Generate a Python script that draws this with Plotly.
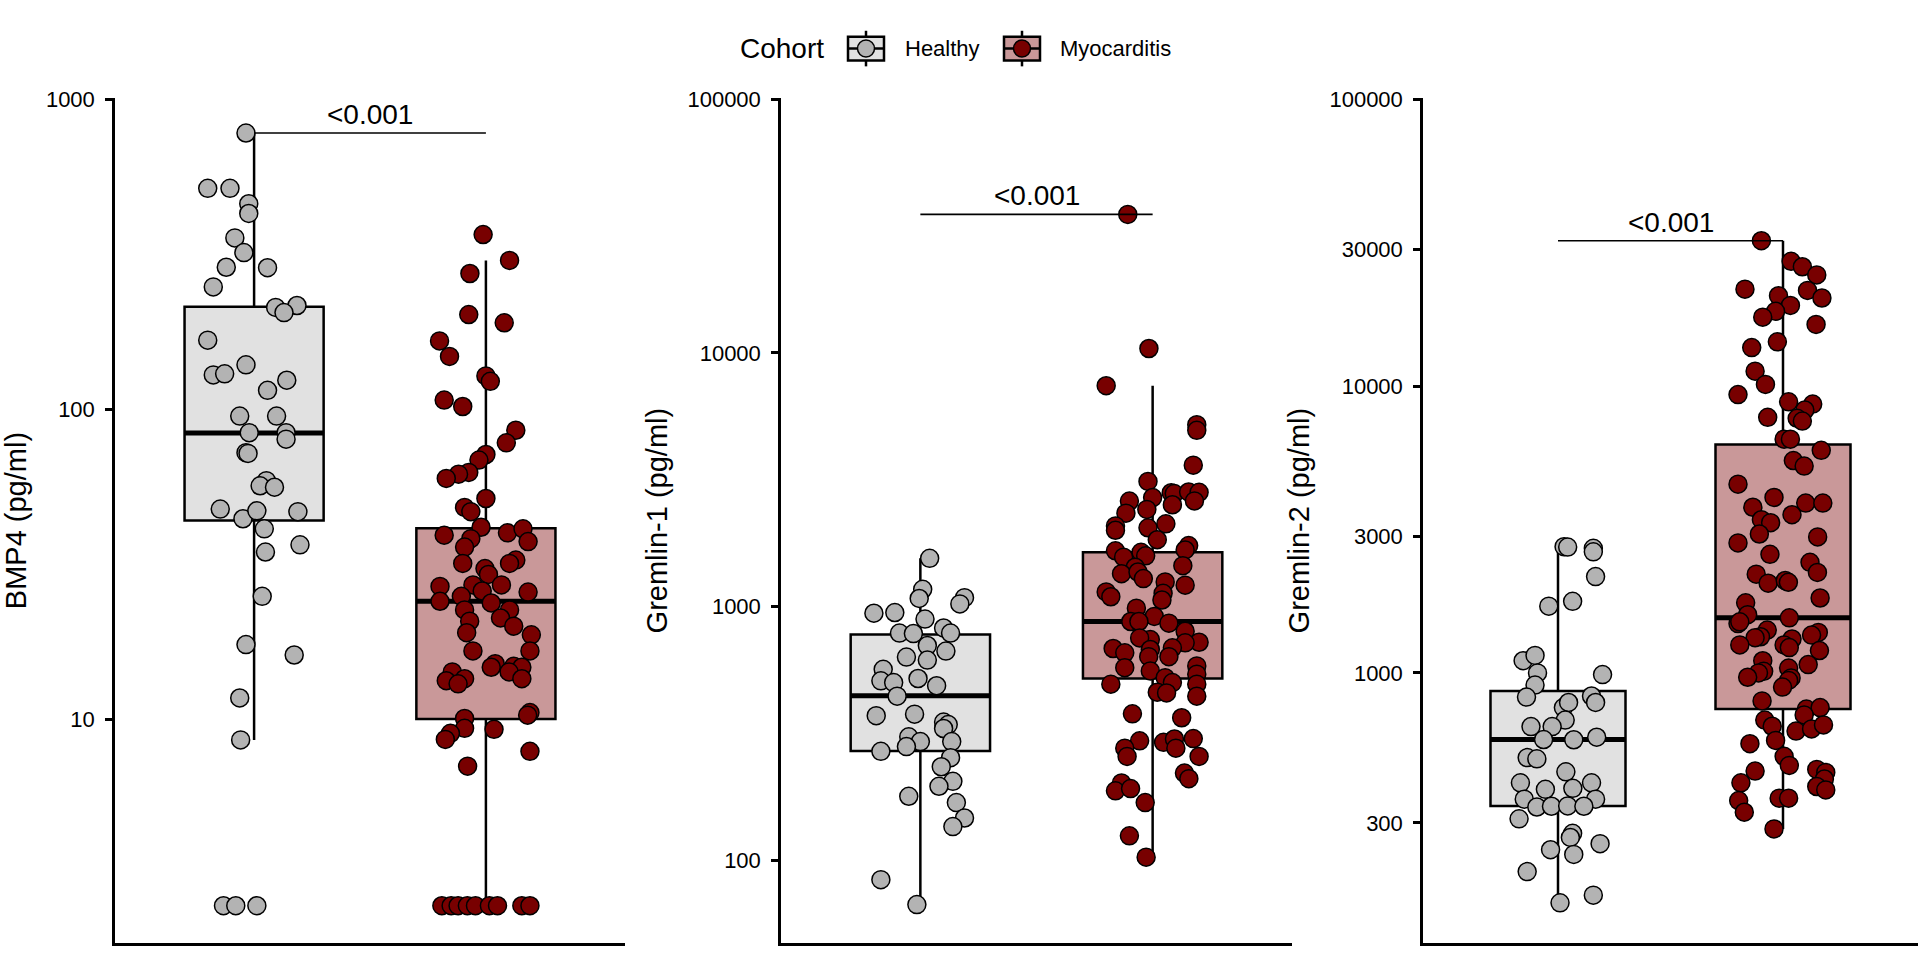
import plotly.graph_objects as go
import math

# ---------------- data ----------------
groups = ["Healthy", "Myocarditis"]
legend_title = "Cohort"
y_titles = ["BMP4 (pg/ml)", "Gremlin-1 (pg/ml)", "Gremlin-2 (pg/ml)"]
p_labels = ["<0.001", "<0.001", "<0.001"]

# BMP4
bmp4_healthy = [778, 516, 516, 460, 428, 357, 320, 287, 286, 248, 213, 216, 205, 167, 129, 130,
                139, 124, 115, 95, 95, 84, 84, 80, 72.4, 72, 58.8, 56.6, 56, 47.6, 44.3, 47, 46.7,
                41.1, 36.5, 34.6, 24.9, 17.4, 16.1, 11.7, 8.57, 2.5, 2.5, 2.5]
bmp4_healthy_jit = [-0.035, -0.2, -0.104, -0.023, -0.023, -0.083, -0.044, -0.12, 0.058, -0.176, 0.093,
                    0.185, 0.129, -0.2, -0.176, -0.127, -0.035, 0.141, 0.058, -0.062, 0.097, -0.021,
                    0.138, 0.138, -0.035, -0.026, 0.053, 0.026, 0.088, -0.146, -0.048, 0.012, 0.189,
                    0.044, 0.198, 0.049, 0.035, -0.035, 0.173, -0.062, -0.058, -0.132, -0.079, 0.012]
bmp4_myo = [366, 302, 274, 202, 190, 166, 148, 128, 123, 107, 102, 85.5, 77.9, 71.4, 68.5, 62.5, 61.7,
            59.8, 51.5, 48.2, 46.7, 41.6, 39.2, 39.9, 41.1, 38.2, 37.4, 35.9, 31.8, 32.6, 31.8, 30.6,
            29.3, 27.1, 26.8, 27.1, 25.9, 25.7, 24.9, 24.0, 23.7, 22.5, 22.5, 21.2, 20.7, 19.95, 19.0,
            18.7, 16.6, 16.6, 15.1, 14.7, 14.8, 14.7, 14.2, 14.2, 13.3, 13.5, 13.0, 13.5, 10.5, 10.3,
            10.05, 9.34, 9.0, 8.6, 9.27, 7.87, 7.05, 2.5, 2.5, 2.5, 2.5, 2.5, 2.5, 2.5, 2.5, 2.5]
bmp4_myo_jit = [-0.012, 0.102, -0.069, -0.074, 0.079, -0.2, -0.157, 0.0, 0.019, -0.18, -0.1, 0.129,
                0.088, 0.0, -0.03, -0.074, -0.118, -0.171, 0.0, -0.092, -0.065, -0.021, -0.18, 0.093,
                0.16, -0.065, 0.182, -0.092, -0.1, 0.129, 0.102, -0.004, 0.011, -0.056, -0.198, 0.067,
                -0.016, 0.182, -0.106, -0.198, 0.023, -0.092, 0.102, 0.063, -0.07, 0.12, -0.083, 0.196,
                -0.056, 0.19, 0.04, 0.023, 0.12, 0.155, 0.1, -0.145, -0.171, -0.092, -0.12, 0.155,
                0.19, 0.18, -0.092, -0.092, -0.153, -0.175, 0.035, 0.19, -0.079,
                -0.19, -0.15, -0.12, -0.08, -0.045, 0.015, 0.05, 0.155, 0.19]

# Gremlin-1
grem1_healthy = [1550, 1170, 1077, 1085, 1025, 942, 948, 893, 824, 787, 783, 787, 703, 668, 633, 616,
                 566, 510, 502, 521, 488, 444, 372, 377, 351, 343, 331, 307, 294, 281, 269, 294, 254,
                 234, 205, 196, 179, 169, 147, 136, 84, 67]
grem1_healthy_jit = [0.04, 0.01, -0.005, 0.19, 0.17, -0.2, -0.11, 0.02, 0.1, -0.09, -0.03, 0.13, 0.03,
                     0.11, -0.06, 0.03, -0.16, -0.17, -0.115, -0.01, 0.07, -0.1, -0.19, -0.025, 0.1,
                     0.12, 0.1, -0.05, 0.0, -0.06, -0.17, 0.135, 0.13, 0.09, 0.14, 0.08, -0.05, 0.155,
                     0.19, 0.14, -0.17, -0.015]
grem1_myo = [35100, 10400, 7420, 5210, 4950, 3610, 3115, 2605, 2810, 2790, 2830, 2820, 2690, 2610, 2520,
             2335, 2415, 2080, 2000, 2120, 2045, 1835, 1740, 1672, 1660, 1566, 1637, 1586, 1450, 1430,
             1348, 1369, 1290, 1251, 1215, 1128, 1062, 1143, 1094, 986, 915, 874, 874, 861, 800, 742,
             753, 724, 720, 684, 658, 678, 688, 635, 635, 584, 575, 542, 558, 525, 502, 495, 495, 460,
             457, 444, 378, 365, 296, 277, 257, 292, 301, 302, 277, 257, 221, 210, 202, 188, 192, 169,
             125, 103]
grem1_myo_jit = [-0.107, -0.016, -0.2, 0.19, 0.19, 0.175, -0.02, -0.1, 0.08, 0.093, 0.155, 0.2, 0.0,
                 0.18, 0.085, -0.115, -0.025, -0.16, -0.16, 0.057, -0.02, 0.02, 0.155, 0.14, -0.16,
                 -0.125, -0.05, -0.03, 0.13, -0.075, -0.134, -0.063, -0.04, 0.054, 0.14, 0.045, 0.04,
                 -0.2, -0.18, -0.07, 0.007, -0.094, -0.059, 0.07, 0.14, -0.01, -0.056, 0.2, 0.14, -0.17,
                 -0.12, -0.01, 0.085, -0.017, 0.07, 0.19, -0.12, 0.19, -0.01, 0.054, 0.085, 0.19, -0.18,
                 0.02, 0.06, 0.19, -0.087, 0.125, -0.056, -0.12, -0.11, 0.047, 0.094, 0.175, 0.1, 0.2,
                 0.137, 0.156, -0.134, -0.16, -0.095, -0.032, -0.1, -0.028]

# Gremlin-2
grem2_healthy = [2755, 2745, 2718, 2644, 2167, 1777, 1709, 1103, 1151, 1000, 987, 907, 824, 831, 789,
                 757, 789, 685, 650, 650, 586, 585, 597, 507, 502, 452, 414, 414, 393, 396, 363, 363,
                 341, 343, 344, 343, 310, 276, 267, 254, 242, 233, 203, 168, 158]
grem2_healthy_jit = [0.027, 0.043, 0.157, 0.157, 0.167, 0.065, -0.041, -0.155, -0.102, -0.091, 0.198,
                     -0.102, -0.14, 0.149, 0.167, 0.024, 0.047, 0.032, -0.026, -0.12, -0.064, 0.07,
                     0.172, -0.137, -0.094, 0.035, -0.167, 0.149, -0.056, 0.066, -0.15, 0.167, -0.094,
                     -0.029, 0.043, 0.115, -0.173, 0.065, 0.055, 0.187, -0.033, 0.07, -0.137, 0.157,
                     0.009]
grem2_myo = [32100, 27200, 26050, 24400, 21760, 21540, 20640, 20270, 19100, 18220, 17380, 16400, 14260,
             13620, 11270, 10130, 9340, 8810, 8650, 8250, 7720, 7550, 7780, 6530, 6530, 5970, 5500,
             5260, 4550, 4090, 3910, 3910, 3780, 3560, 3420, 3340, 3050, 2840, 2980, 2590, 2430, 2240,
             2210, 2055, 2100, 2070, 1825, 1755, 1596, 1486, 1507, 1556, 1410, 1337, 1327, 1384, 1355,
             1313, 1252, 1226, 1252, 1197, 1103, 1069, 1040, 1013, 1000, 966, 961, 942, 893, 799, 748,
             757, 714, 685, 652, 627, 638, 659, 582, 567, 512, 476, 455, 461, 450, 427, 402, 391, 414,
             359, 327, 366, 366, 286]
grem2_myo_jit = [-0.096, 0.036, 0.086, 0.15, -0.169, 0.109, -0.02, 0.173, 0.033, -0.033, -0.09, 0.147,
                 -0.025, -0.139, -0.124, -0.078, -0.2, 0.025, 0.132, 0.097, 0.063, 0.086, -0.068, 0.005,
                 0.033, 0.17, 0.046, 0.094, -0.2, -0.04, 0.101, 0.177, -0.134, 0.04, -0.096, -0.055,
                 -0.105, -0.2, 0.154, -0.058, 0.12, 0.153, -0.119, -0.066, 0.01, 0.024, 0.165, -0.166,
                 -0.157, -0.2, -0.192, 0.028, -0.07, -0.1, -0.124, 0.157, 0.127, 0.04, 0.005, 0.028,
                 -0.192, 0.162, -0.09, 0.112, 0.025, -0.086, -0.109, -0.157, 0.036, 0.025, -0.002,
                 -0.093, 0.104, 0.165, 0.094, -0.081, -0.048, 0.058, 0.127, 0.18, -0.033, -0.147, 0.005,
                 0.028, -0.124, 0.15, 0.19, 0.184, 0.15, 0.19, -0.187, -0.197, -0.172, -0.017, 0.025,
                 -0.04]

# box statistics (computed on the log scale in the original)
box_q1 = [[43.7, 10.0], [270, 521], [344, 748]]
box_median = [[83.8, 24.0], [446, 874], [586, 1556]]
box_q3 = [[214, 41.3], [776, 1637], [865, 6250]]
box_low = [[8.57, 2.5], [67, 103], [158, 286]]
box_high = [[778, 302], [1550, 7420], [2755, 32100]]

# y tick values per panel
ticks = [[10, 100, 1000], [100, 1000, 10000, 100000], [300, 1000, 3000, 10000, 30000, 100000]]

# ---------------- style ----------------
point_colors = ["#B3B3B3", "#780000"]
box_fills = ["#E1E1E1", "#C99899"]
FONT = "Liberation Sans, Arial, Helvetica, sans-serif"

values = [[bmp4_healthy, bmp4_myo], [grem1_healthy, grem1_myo], [grem2_healthy, grem2_myo]]
jitters = [[bmp4_healthy_jit, bmp4_myo_jit], [grem1_healthy_jit, grem1_myo_jit],
           [grem2_healthy_jit, grem2_myo_jit]]

W, H = 1920, 960
px_dom = [(115, 625), (781, 1292), (1423, 1918)]
y_dom = [1 - 943 / H, 1 - 88 / H]
y_ranges = [[0.277, 3.004], [1.674, 5.004], [2.058, 5.004]]

fig = go.Figure()
annotations = []
shapes = []
for p in range(3):
    xa = "x" if p == 0 else f"x{p+1}"
    ya = "y" if p == 0 else f"y{p+1}"
    for g in range(2):
        pos = g + 1
        fig.add_trace(go.Box(
            x=[pos], q1=[box_q1[p][g]], median=[box_median[p][g]], q3=[box_q3[p][g]],
            lowerfence=[box_low[p][g]], upperfence=[box_high[p][g]],
            width=0.6, whiskerwidth=0, boxpoints=False, fillcolor=box_fills[g],
            line=dict(color="black", width=2.5), xaxis=xa, yaxis=ya,
            name=groups[g], showlegend=False, hoverinfo="skip"))
        # thicker median line like ggplot
        fig.add_trace(go.Scatter(
            x=[pos - 0.3, pos + 0.3], y=[box_median[p][g]] * 2, mode="lines",
            line=dict(color="black", width=5), xaxis=xa, yaxis=ya,
            showlegend=False, hoverinfo="skip"))
    for g in range(2):
        pos = g + 1
        fig.add_trace(go.Scatter(
            x=[pos + j for j in jitters[p][g]], y=values[p][g], mode="markers",
            marker=dict(size=18, color=point_colors[g], line=dict(color="black", width=1.5)),
            name=groups[g], showlegend=False, xaxis=xa, yaxis=ya))
    # significance bracket
    top = max(max(values[p][0]), max(values[p][1]))
    fig.add_trace(go.Scatter(
        x=[1, 2], y=[top, top], mode="lines", line=dict(color="black", width=1.6),
        xaxis=xa, yaxis=ya, showlegend=False, hoverinfo="skip"))
    annotations.append(dict(
        x=1.5, y=math.log10(top), xref=xa, yref=ya, text=p_labels[p], showarrow=False,
        yanchor="bottom", yshift=1, font=dict(size=28, color="black", family=FONT)))

# ---------------- legend (ggplot style keys: box + whisker + point) ----------------
def px(x):
    return x / W


def py(y):
    return 1 - y / H


leg_y = 38
annotations.append(dict(x=px(738), y=py(leg_y), xref="paper", yref="paper", text=legend_title,
                        showarrow=False, xanchor="left", yanchor="middle",
                        font=dict(size=28, color="black", family=FONT)))
key_x = [866, 1022]
label_x = [903, 1058]
for g in range(2):
    cx = key_x[g]
    # whisker
    shapes.append(dict(type="line", xref="paper", yref="paper", x0=px(cx), x1=px(cx),
                       y0=py(leg_y - 18), y1=py(leg_y + 18), line=dict(color="black", width=2.5)))
    # box
    shapes.append(dict(type="rect", xref="paper", yref="paper", x0=px(cx - 18), x1=px(cx + 18),
                       y0=py(leg_y - 12), y1=py(leg_y + 12), fillcolor=box_fills[g],
                       line=dict(color="black", width=2.5)))
    # median
    shapes.append(dict(type="line", xref="paper", yref="paper", x0=px(cx - 18), x1=px(cx + 18),
                       y0=py(leg_y), y1=py(leg_y), line=dict(color="black", width=2.5)))
    # point
    shapes.append(dict(type="circle", xref="paper", yref="paper", xsizemode="pixel",
                       ysizemode="pixel", xanchor=px(cx), yanchor=py(leg_y),
                       x0=-8.5, x1=8.5, y0=-8.5, y1=8.5, fillcolor=point_colors[g],
                       line=dict(color="black", width=1.5)))
    annotations.append(dict(x=px(label_x[g]), y=py(leg_y), xref="paper", yref="paper",
                            text=groups[g], showarrow=False, xanchor="left", yanchor="middle",
                            font=dict(size=22, color="black", family=FONT)))

layout = dict(
    width=W, height=H, margin=dict(l=0, r=0, t=0, b=0),
    plot_bgcolor="white", paper_bgcolor="white",
    font=dict(family=FONT, color="black"),
    annotations=annotations, shapes=shapes, showlegend=False,
)
for p in range(3):
    xk = "xaxis" if p == 0 else f"xaxis{p+1}"
    yk = "yaxis" if p == 0 else f"yaxis{p+1}"
    ya = "y" if p == 0 else f"y{p+1}"
    xa = "x" if p == 0 else f"x{p+1}"
    layout[xk] = dict(domain=[px_dom[p][0] / W, px_dom[p][1] / W], range=[0.4, 2.6],
                      showgrid=False, zeroline=False, showticklabels=False, ticks="",
                      showline=True, linecolor="black", linewidth=2.5, anchor=ya, fixedrange=True)
    layout[yk] = dict(domain=y_dom, type="log", range=y_ranges[p], tickvals=ticks[p],
                      ticktext=[str(t) for t in ticks[p]], showgrid=False, zeroline=False,
                      showline=True, linecolor="black", linewidth=2.5, ticks="outside",
                      ticklen=7, tickwidth=2.5, tickcolor="black",
                      tickfont=dict(size=22, color="black"), ticklabelstandoff=6,
                      title=dict(text=y_titles[p], font=dict(size=29), standoff=12),
                      anchor=xa, fixedrange=True)
fig.update_layout(**layout)
fig.write_html("out.html", config={"displayModeBar": False},
               post_script="document.body.style.margin='0';document.body.style.overflow='hidden';")
